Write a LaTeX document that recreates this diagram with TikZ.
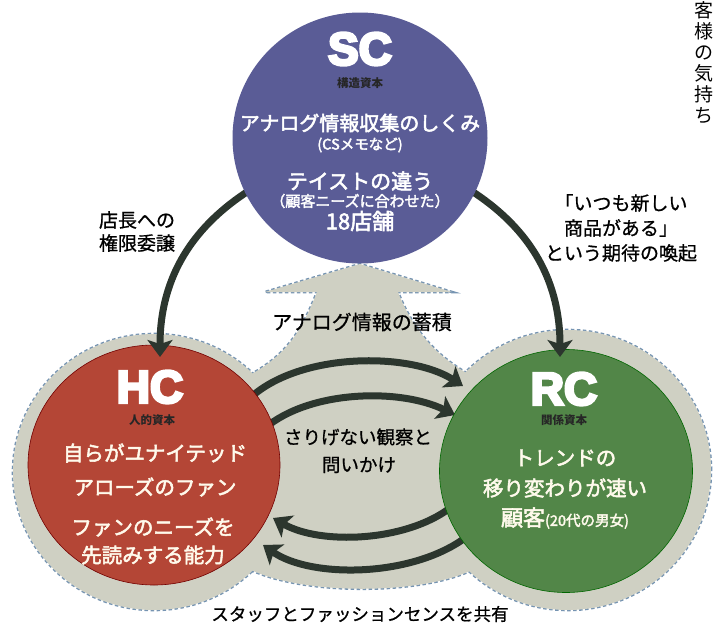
\documentclass[tikz,border=0pt]{standalone}
\usepackage{fontspec}
\setmainfont{Noto Sans CJK JP}
\newfontfamily\jpmed{Noto Sans CJK JP}[FakeBold=2.5]
\newfontfamily\jplbl{Noto Sans CJK JP}[FakeBold=0.8]
\newfontfamily\heavy{Liberation Sans}[UprightFont=* Bold, FakeBold=6]
\usetikzlibrary{arrows.meta,shapes.geometric}
\definecolor{scblue}{RGB}{90,92,150}
\definecolor{hcred}{RGB}{180,70,54}
\definecolor{rcgreen}{RGB}{82,134,72}
\definecolor{halogray}{RGB}{207,208,195}
\definecolor{dashc}{RGB}{118,148,178}
\definecolor{arrowc}{RGB}{44,54,46}
\definecolor{cream}{RGB}{255,250,236}
\tikzset{
  capbig/.style={text=white, inner sep=0pt, font=\heavy\fontsize{46}{50}\selectfont},
  subcap/.style={text=black!85, inner sep=0pt, font=\bfseries\fontsize{11.5}{13}\selectfont},
  wtext/.style={text=white, inner sep=0pt, font=\jpmed\fontsize{20}{24}\selectfont},
  ctext/.style={text=cream, inner sep=0pt, font=\jpmed\fontsize{20.5}{24}\selectfont},
  outlbl/.style={text=black, inner sep=0pt, font=\jplbl\fontsize{19}{23}\selectfont},
  bigarrow/.style={draw=arrowc, line width=7pt, -{Stealth[length=17pt,width=25pt,inset=4pt]}},
  halodash/.style={draw=dashc, line width=2.6pt, dash pattern=on 3.5pt off 2.5pt},
  capsule/.style={ellipse, inner sep=0pt, draw=black!55!red, line width=0.6pt}
}
\begin{document}
\begin{tikzpicture}[x=1pt,y=-1pt]
\useasboundingbox (0,0) rectangle (716,630);
\fill[white] (0,0) rectangle (716,630);

% halo region: dashed outlines first, then refill
\path[halodash] (154,472) ellipse [x radius=141pt, y radius=138pt];
\path[halodash] (568,470) ellipse [x radius=143pt, y radius=140pt];
\path[halodash] (250,375) .. controls (285,355) and (300,335) .. (317,292) -- (265,292) -- (360,264) -- (452,292) -- (398,292) .. controls (415,335) and (440,358) .. (470,375) -- (485,562) .. controls (440,598) and (280,598) .. (235,560) -- cycle;
\fill[halogray] (154,472) ellipse [x radius=141pt, y radius=138pt];
\fill[halogray] (568,470) ellipse [x radius=143pt, y radius=140pt];
\fill[halogray] (250,375) .. controls (285,355) and (300,335) .. (317,292) -- (265,292) -- (360,264) -- (452,292) -- (398,292) .. controls (415,335) and (440,358) .. (470,375) -- (485,562) .. controls (440,598) and (280,598) .. (235,560) -- cycle;

% middle arrows (drawn under circles)
\coordinate (a1s) at (250,398); \coordinate (a1e) at (463,386);
\coordinate (a2s) at (265,428); \coordinate (a2e) at (455,415);
\coordinate (a3s) at (450,508); \coordinate (a3e) at (273,518);
\coordinate (a4s) at (465,538); \coordinate (a4e) at (263,545);
\draw[bigarrow] (a1s) .. controls (300,352) and (410,352) .. (a1e);
\draw[bigarrow] (a2s) .. controls (310,390) and (400,388) .. (a2e);
\draw[bigarrow] (a3s) .. controls (405,542) and (320,545) .. (a3e);
\draw[bigarrow] (a4s) .. controls (410,578) and (310,578) .. (a4e);

% HC and RC circles
\node[capsule, fill=hcred, minimum width=252pt, minimum height=240pt] (hc) at (154,465) {};
\node[capsule, fill=rcgreen, draw=black!60!green, minimum width=253pt, minimum height=243pt] (rc) at (566,471) {};

% arrows from SC
\coordinate (s1s) at (250,190); \coordinate (s1e) at (160,357);
\coordinate (s2s) at (470,190); \coordinate (s2e) at (560,357);
\draw[bigarrow] (s1s) .. controls (195,225) and (160,275) .. (s1e);
\draw[bigarrow] (s2s) .. controls (525,225) and (560,275) .. (s2e);

% SC circle
\node[ellipse, inner sep=0pt, fill=scblue, minimum width=255pt, minimum height=251pt] (sc) at (360,138) {};

% SC text
\node[capbig] (scT) at (360,49) {SC};
\node[subcap] (scS) at (360,83) {構造資本};
\node[wtext] (sc1) at (360,123) {アナログ情報収集のしくみ};
\node[wtext, font=\jpmed\fontsize{14.5}{17}\selectfont] (sc2) at (360,145) {(CSメモなど)};
\node[wtext, font=\jpmed\fontsize{21}{24}\selectfont] (sc3) at (360,181) {テイストの違う};
\node[wtext, font=\jpmed\fontsize{15}{17}\selectfont] (sc4) at (360,201) {（顧客ニーズに合わせた）};
\node[wtext, font=\jpmed\fontsize{22}{24}\selectfont] (sc5) at (360,221) {18店舗};

% HC text
\node[capbig] (hcT) at (150,387) {HC};
\node[subcap] (hcS) at (152,420) {人的資本};
\node[ctext] (hc1) at (155,453) {自らがユナイテッド};
\node[ctext] (hc2) at (155,487) {アローズのファン};
\node[ctext] (hc3) at (153,527) {ファンのニーズを};
\node[ctext] (hc4) at (153,555) {先読みする能力};

% RC text
\node[capbig] (rcT) at (564,389) {RC};
\node[subcap] (rcS) at (564,420) {関係資本};
\node[ctext] (rc1) at (565,458) {トレンドの};
\node[ctext] (rc2) at (565,488) {移り変わりが速い};
\node[ctext] (rc3) at (565,518) {{\fontsize{22}{24}\selectfont 顧客}{\fontsize{14.5}{17}\selectfont (20代の男女)}};

% outside labels
\node[outlbl] (l1) at (137,220) {店長への};
\node[outlbl] (l2) at (137,243) {権限委譲};
\node[outlbl] (r1) at (621,203) {「いつも新しい};
\node[outlbl] (r2) at (621,228) {商品がある」};
\node[outlbl] (r3) at (621,253) {という期待の喚起};
\node[outlbl, font=\jplbl\fontsize{20}{23}\selectfont] (m1) at (362,322) {アナログ情報の蓄積};
\node[outlbl, font=\jplbl\fontsize{18.5}{22}\selectfont] (m2) at (358,437) {さりげない観察と};
\node[outlbl, font=\jplbl\fontsize{18.5}{22}\selectfont] (m3) at (359,465) {問いかけ};
\node[outlbl, font=\jplbl\fontsize{17.5}{21}\selectfont] (m4) at (360,614) {スタッフとファッションセンスを共有};

% vertical text at right edge
\node[outlbl, anchor=north, align=center, font=\fontsize{19}{21}\selectfont] (vt) at (704,1) {客\\様\\の\\気\\持\\ち};
\end{tikzpicture}
\end{document}
